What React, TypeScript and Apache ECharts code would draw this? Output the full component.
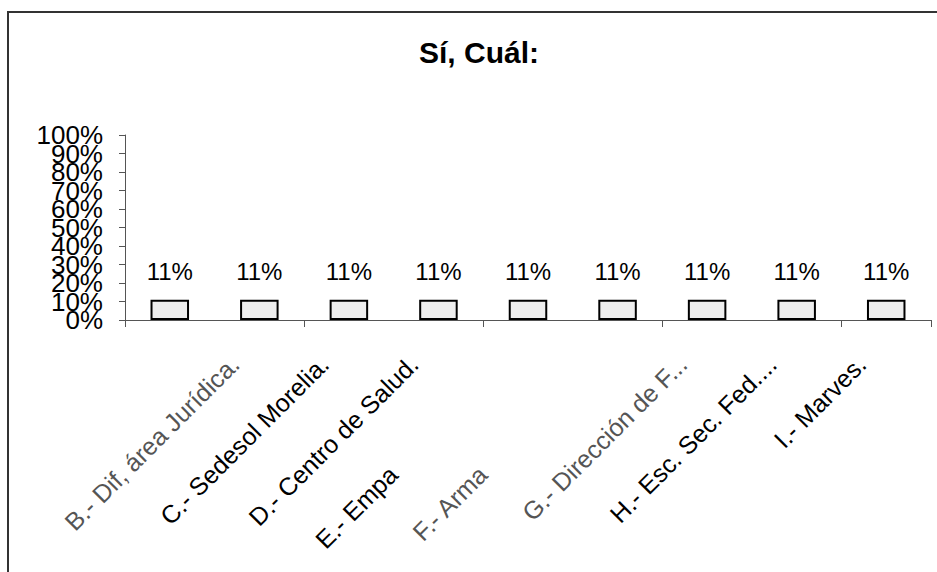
import React, { useEffect, useRef } from "react";
import * as echarts from "echarts";

const categories = [
  "B.- Dif, área Jurídica.",
  "C.- Sedesol Morelia.",
  "D.- Centro de Salud.",
  "E.- Empa",
  "F.- Arma",
  "G.- Dirección de F...",
  "H.- Esc. Sec. Fed....",
  "I.- Marves.",
  "",
];
const values = [0.11, 0.11, 0.11, 0.11, 0.11, 0.11, 0.11, 0.11, 0.11];
const yMin = 0;
const yMax = 1;
const yStep = 0.1;
const yTicksEven = [0, 0.2, 0.4, 0.6, 0.8, 1];
const yTicksOdd = [0.1, 0.3, 0.5, 0.7, 0.9];
const titleText = "Sí, Cuál:";

const FONT = "'Liberation Sans', Arial, Helvetica, sans-serif";
const pct = (v: number) => Math.round(v * 100) + "%";

export default function App() {
  const ref = useRef<HTMLDivElement>(null);
  useEffect(() => {
    if (!ref.current) return;
    const chart = echarts.init(ref.current, undefined, { renderer: "svg" });
    const shiftedLabels = new Set([3, 4]);
    const grayLabels = new Set([0, 4, 5]);
    const labelData = categories.map((c, i) => {
      const ts: any = {};
      if (shiftedLabels.has(i)) ts.padding = [0, 156, 0, 0];
      if (grayLabels.has(i)) ts.color = "#555";
      return Object.keys(ts).length ? { value: c, textStyle: ts } : c;
    });
    const yLabelStyle = {
      formatter: (v: number) => pct(v),
      fontSize: 26,
      margin: 22,
      color: "#000",
      fontFamily: FONT,
      showMinLabel: true,
      showMaxLabel: true,
      hideOverlap: false,
    };
    chart.setOption({
      animation: false,
      backgroundColor: "#fff",
      title: {
        text: titleText,
        left: 474,
        top: 32,
        textAlign: "center",
        textStyle: { fontFamily: FONT, fontSize: 30, fontWeight: "bold", color: "#000" },
      },
      graphic: [
        {
          type: "rect",
          silent: true,
          z: -1,
          shape: { x: 8, y: 12, width: 1000, height: 700 },
          style: { fill: "none", stroke: "#333", lineWidth: 2 },
        },
      ],
      grid: [
        { left: 125, right: 6, top: 135, bottom: 252, containLabel: false, outerBoundsMode: "none" },
        { left: 190, right: -59, top: 135, bottom: 252, containLabel: false, outerBoundsMode: "none" },
      ],
      xAxis: [
        {
          type: "category",
          gridIndex: 0,
          data: categories,
          axisLine: { show: true, lineStyle: { color: "#555", width: 1 } },
          axisTick: { show: true, length: 7, lineStyle: { color: "#555" } },
          axisLabel: { show: false },
        },
        {
          type: "category",
          gridIndex: 1,
          data: labelData,
          axisLine: { show: false },
          axisTick: { show: false },
          axisLabel: {
            interval: 0,
            rotate: 45,
            margin: 40,
            fontSize: 25,
            fontFamily: FONT,
            color: "#000",
            hideOverlap: false,
          },
        },
      ],
      yAxis: [
        {
          type: "value",
          gridIndex: 0,
          min: yMin,
          max: yMax,
          interval: yStep,
          axisLine: { show: true, lineStyle: { color: "#555", width: 1 } },
          axisTick: { show: true, length: 6, lineStyle: { color: "#555" } },
          splitLine: { show: false },
          axisLabel: { ...yLabelStyle, customValues: yTicksEven },
        },
        {
          type: "value",
          gridIndex: 1,
          min: yMin,
          max: yMax,
          show: false,
        },
        {
          type: "value",
          gridIndex: 0,
          position: "left",
          offset: 0,
          min: yMin,
          max: yMax,
          interval: yStep,
          axisLine: { show: false },
          axisTick: { show: false },
          splitLine: { show: false },
          axisLabel: { ...yLabelStyle, customValues: yTicksOdd },
        },
      ],
      series: [
        {
          type: "bar",
          xAxisIndex: 0,
          yAxisIndex: 0,
          data: values,
          barWidth: "43%",
          itemStyle: { color: "#eeeeee", borderColor: "#000", borderWidth: 2 },
          label: {
            show: true,
            position: "top",
            distance: 16,
            formatter: (p: any) => pct(p.value),
            fontSize: 24,
            color: "#000",
            fontFamily: FONT,
          },
        },
      ],
    });
    return () => chart.dispose();
  }, []);
  return <div ref={ref} style={{ position: "fixed", left: 0, top: 0, width: 937, height: 572 }} />;
}
